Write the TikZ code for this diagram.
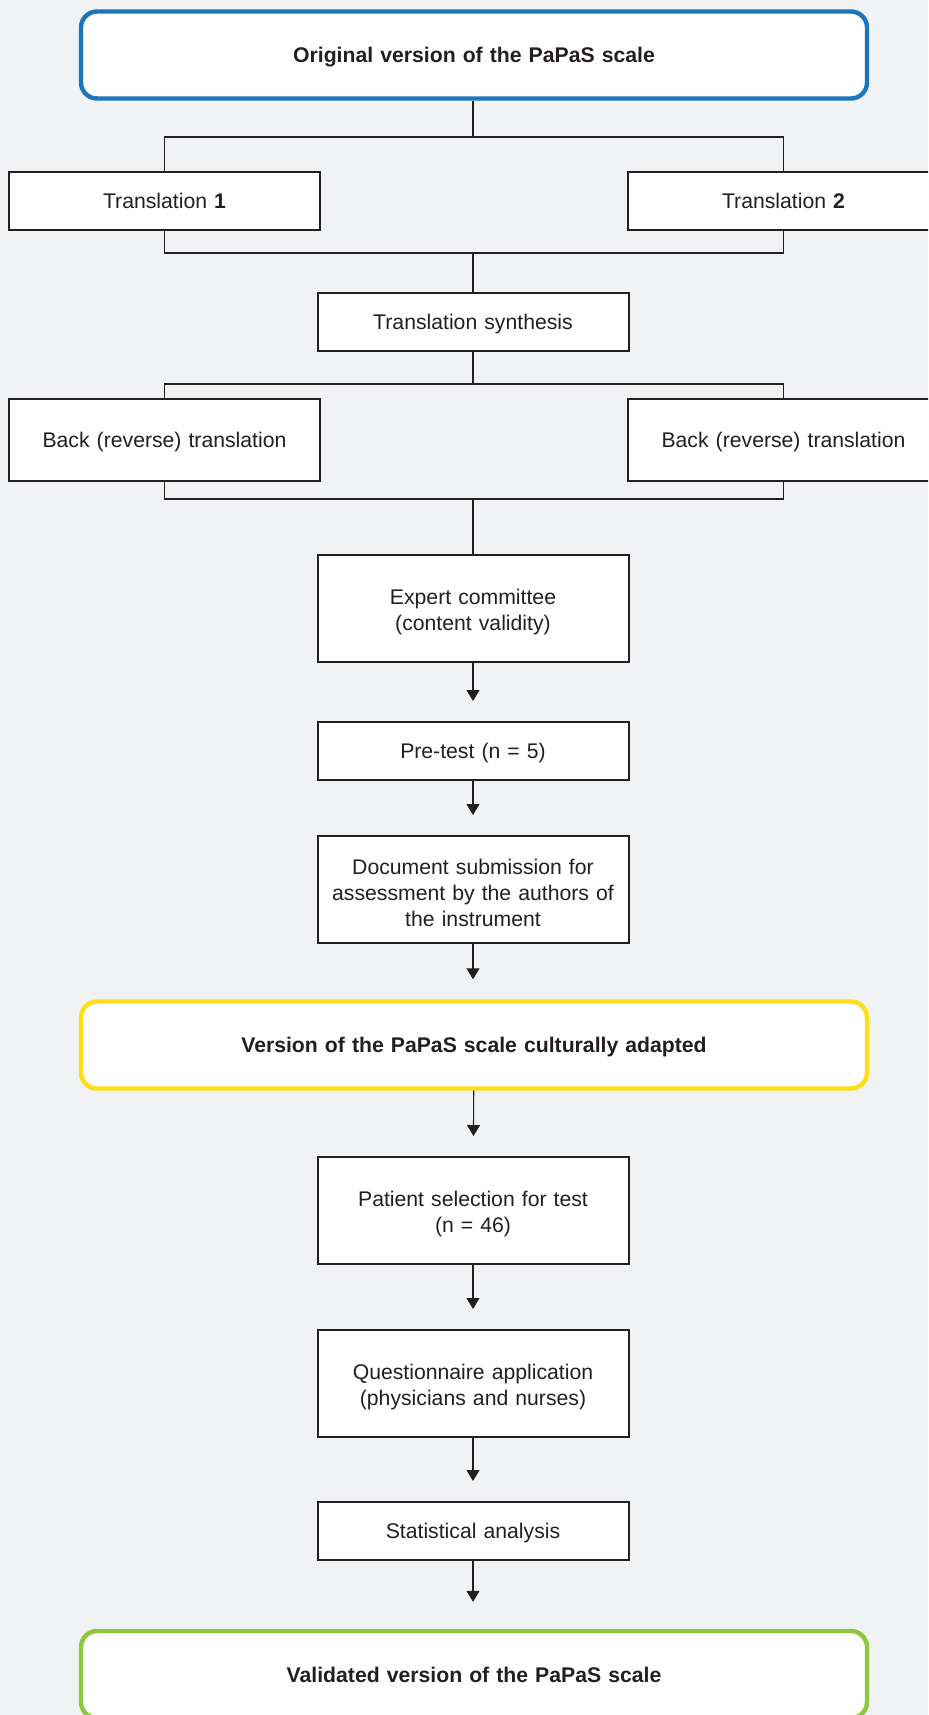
\documentclass[tikz,border=0pt]{standalone}
\usepackage{fontspec}
\setmainfont{Liberation Sans}
\usetikzlibrary{arrows.meta}
\definecolor{bggray}{HTML}{F1F2F4}
\definecolor{inkdark}{HTML}{231F20}
\definecolor{papasblue}{HTML}{1B75BC}
\definecolor{papasyellow}{HTML}{FFDE17}
\definecolor{papasgreen}{HTML}{8DC63F}
\begin{document}
\begin{tikzpicture}[x=0.5pt, y=-0.5pt,
	every node/.style={font=\fontsize{10.6}{13.2}\selectfont, text=inkdark, align=center,
		execute at end node={\endgraf\vspace*{-3.4pt}}},
	stage/.style={rectangle, draw=inkdark, line width=1pt, fill=white, inner sep=0pt,
		minimum width=155.5pt, text width=148pt},
	keystage/.style={rectangle, rounded corners=8pt, line width=2.2pt, fill=white, inner sep=0pt,
		minimum width=393pt, minimum height=43.5pt, text width=380pt,
		font=\fontsize{10.6}{13.2}\selectfont\bfseries},
	link/.style={draw=inkdark, line width=0.55pt},
	flow/.style={link, -{Triangle[length=5.5pt,width=6.5pt]}, shorten >=10pt}]
			\useasboundingbox (0,0) rectangle (928,1715);
			\clip (0,0) rectangle (928,1715);
			\fill[bggray] (0,0) rectangle (928,1715);

			\node[keystage, draw=papasblue] (orig) at (474,55) {Original version of the PaPaS scale};
			\node[stage, minimum height=29pt] (tra1) at (164.5,201) {Translation \textbf{1}};
			\node[stage, minimum height=29pt] (tra2) at (783.5,201) {Translation \textbf{2}};
			\node[stage, minimum height=29pt] (synth) at (473,322) {Translation synthesis};
			\node[stage, minimum height=41pt] (back1) at (164.5,440) {Back (reverse) translation};
			\node[stage, minimum height=41pt] (back2) at (783.5,440) {Back (reverse) translation};
			\node[stage, minimum height=53.5pt] (expert) at (473,608.5) {Expert committee\\(content validity)};
			\node[stage, minimum height=29pt] (pretest) at (473,751) {Pre-test (n = 5)};
			\node[stage, minimum height=53.5pt] (docsub) at (473,889.5) {Document submission for\\assessment by the authors of\\the instrument};
			\node[keystage, draw=papasyellow] (adapted) at (474,1045) {Version of the PaPaS scale culturally adapted};
			\node[stage, minimum height=53.5pt] (patient) at (473,1210.5) {Patient selection for test\\(n = 46)};
			\node[stage, minimum height=53.5pt] (quest) at (473,1383.5) {Questionnaire application\\(physicians and nurses)};
			\node[stage, minimum height=29pt] (stats) at (473,1531) {Statistical analysis};
			\node[keystage, draw=papasgreen] (valid) at (474,1674.5) {Validated version of the PaPaS scale};

			\coordinate (split1) at (473,137);
			\coordinate (join1) at (473,253);
			\coordinate (split2) at (473,384);
			\coordinate (join2) at (473,499);

			\draw[link] (orig.south -| split1) -- (split1);
			\draw[link] (tra1) |- (split1) -| (tra2);
			\draw[link] (tra1) |- (join1) -| (tra2);
			\draw[link] (join1) -- (synth);
			\draw[link] (synth) -- (split2);
			\draw[link] (back1) |- (split2) -| (back2);
			\draw[link] (back1) |- (join2) -| (back2);
			\draw[link] (join2) -- (expert);

			\foreach \a/\b in {expert/pretest, pretest/docsub, adapted/patient, patient/quest, quest/stats}
				\draw[flow] (\a) -- (\b);
			\draw[flow] (docsub) -- (docsub |- adapted.north);
			\draw[flow, shorten >=13.5pt] (stats) -- (stats |- valid.north);
		\end{tikzpicture}
\end{document}
